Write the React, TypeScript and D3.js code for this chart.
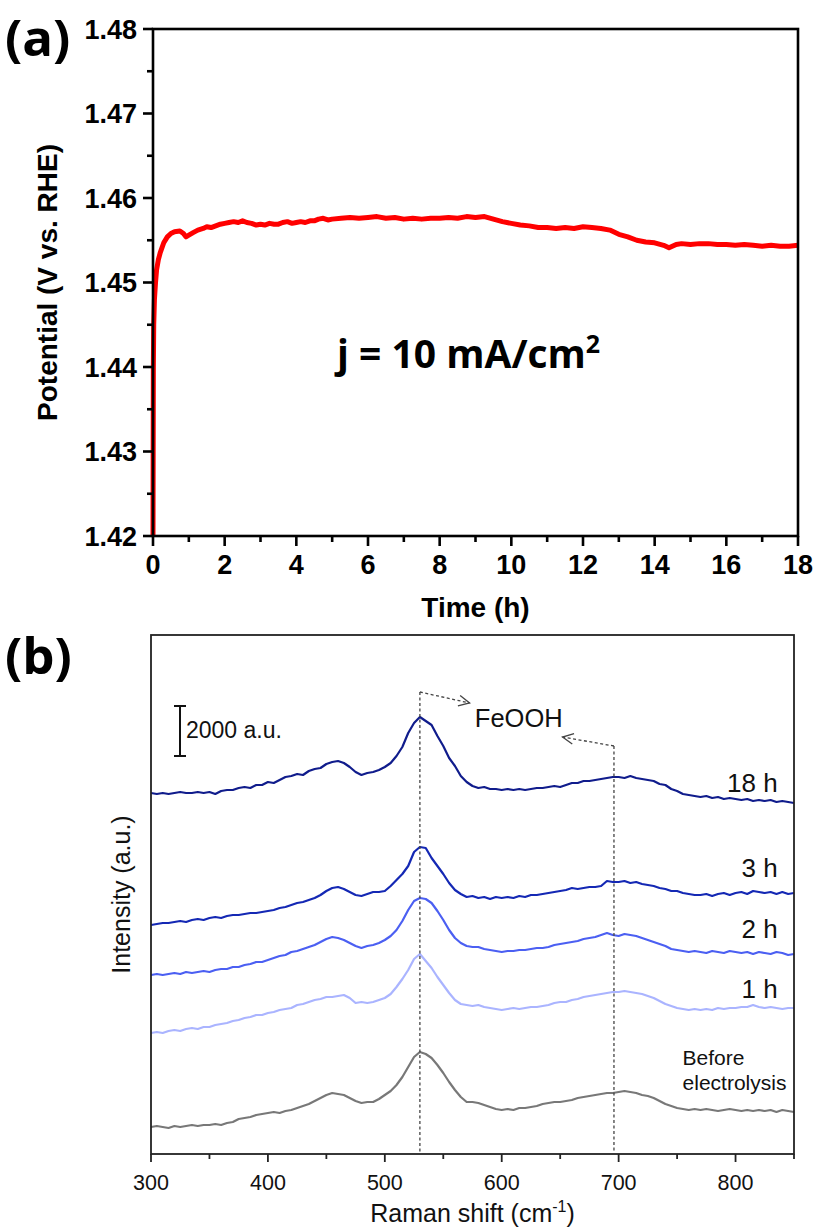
import React from 'react';
import * as d3 from 'd3';

// ---------- Panel (a): chronopotentiometry ----------
const potentialTrace: [number, number][] = [
  [0, 1.42], [0.01, 1.44], [0.02, 1.445], [0.04, 1.448], [0.07, 1.45], [0.1, 1.4515],
  [0.15, 1.4527], [0.2, 1.4535], [0.3, 1.4547], [0.4, 1.4554], [0.5, 1.4558], [0.6, 1.456],
  [0.75, 1.4561], [0.85, 1.4558], [0.92, 1.4554], [1.0, 1.4556], [1.12, 1.4559], [1.25, 1.4562],
  [1.4, 1.4564], [1.5, 1.4566], [1.62, 1.4565], [1.75, 1.4567], [1.88, 1.4569], [2.0, 1.457],
  [2.12, 1.4571], [2.25, 1.4572], [2.38, 1.4571], [2.5, 1.4573], [2.62, 1.4571], [2.75, 1.457],
  [2.88, 1.4568], [3.0, 1.4569], [3.12, 1.4568], [3.25, 1.457], [3.38, 1.4569], [3.5, 1.4569],
  [3.62, 1.4571], [3.75, 1.4572], [3.88, 1.457], [4.0, 1.4571], [4.12, 1.4572], [4.25, 1.4571],
  [4.38, 1.4573], [4.5, 1.4573], [4.62, 1.4575], [4.75, 1.4576], [4.88, 1.4574], [5.0, 1.4575],
  [5.25, 1.4576], [5.5, 1.4577], [5.75, 1.4576], [6.0, 1.4577], [6.25, 1.4578], [6.5, 1.4576],
  [6.75, 1.4577], [7.0, 1.4575], [7.25, 1.4576], [7.5, 1.4575], [7.75, 1.4576], [8.0, 1.4576],
  [8.25, 1.4577], [8.5, 1.4576], [8.75, 1.4578], [9.0, 1.4577], [9.25, 1.4578], [9.5, 1.4575],
  [9.75, 1.4572], [10.0, 1.457], [10.25, 1.4568], [10.5, 1.4567], [10.75, 1.4565], [11.0, 1.4565],
  [11.25, 1.4564], [11.5, 1.4565], [11.75, 1.4564], [12.0, 1.4566], [12.25, 1.4565], [12.5, 1.4564],
  [12.75, 1.4562], [13.0, 1.4557], [13.25, 1.4554], [13.5, 1.455], [13.75, 1.4548], [14.0, 1.4547],
  [14.25, 1.4544], [14.4, 1.4541], [14.6, 1.4545], [14.75, 1.4546], [15.0, 1.4545], [15.25, 1.4546],
  [15.5, 1.4546], [15.75, 1.4545], [16.0, 1.4545], [16.25, 1.4544], [16.5, 1.4545], [16.75, 1.4544],
  [17.0, 1.4543], [17.25, 1.4544], [17.5, 1.4543], [17.75, 1.4543], [18.0, 1.4544],
];
const timeDomain = [0, 18];
const potentialDomain = [1.42, 1.48];

// ---------- Panel (b): Raman spectra (offset, a.u.) ----------
const ramanShift = d3.range(300, 851, 5);
const spec18h = [
  14440, 14400, 14440, 14400, 14440, 14480, 14440, 14440, 14480, 14440,
  14480, 14400, 14520, 14560, 14560, 14640, 14680, 14640, 14760, 14760,
  14880, 14840, 14960, 15080, 15120, 15200, 15160, 15320, 15400, 15440,
  15600, 15680, 15720, 15640, 15480, 15280, 15160, 15240, 15280, 15360,
  15480, 15640, 15920, 16280, 16840, 17240, 17480, 17320, 17160, 16720,
  16320, 15840, 15520, 15120, 14880, 14720, 14640, 14680, 14600, 14600,
  14560, 14600, 14560, 14600, 14560, 14600, 14640, 14640, 14680, 14720,
  14680, 14760, 14840, 14840, 14920, 14920, 14960, 15000, 15040, 15080,
  15080, 15040, 15120, 15040, 15000, 14960, 14920, 14800, 14760, 14600,
  14520, 14400, 14360, 14320, 14280, 14320, 14240, 14280, 14200, 14240,
  14200, 14160, 14200, 14120, 14160, 14120, 14160, 14080, 14120, 14080,
  14040,
];
const spec3h = [
  9160, 9200, 9240, 9240, 9280, 9320, 9280, 9360, 9400, 9360,
  9440, 9480, 9440, 9520, 9560, 9560, 9600, 9640, 9640, 9680,
  9720, 9760, 9840, 9880, 9960, 10040, 10080, 10160, 10240, 10360,
  10520, 10640, 10680, 10600, 10480, 10360, 10320, 10400, 10480, 10480,
  10520, 10720, 10960, 11200, 11520, 12080, 12280, 12240, 11840, 11520,
  11200, 10840, 10560, 10400, 10280, 10320, 10240, 10280, 10200, 10280,
  10240, 10280, 10240, 10320, 10280, 10360, 10360, 10400, 10440, 10480,
  10520, 10560, 10640, 10600, 10640, 10680, 10680, 10720, 10920, 10880,
  10880, 10920, 10840, 10880, 10800, 10760, 10720, 10640, 10600, 10520,
  10520, 10440, 10400, 10360, 10360, 10400, 10320, 10400, 10440, 10360,
  10440, 10480, 10400, 10520, 10480, 10440, 10480, 10400, 10480, 10400,
  10440,
];
const spec2h = [
  7160, 7200, 7160, 7200, 7240, 7200, 7280, 7240, 7280, 7320,
  7280, 7360, 7400, 7400, 7480, 7480, 7560, 7600, 7680, 7680,
  7760, 7840, 7920, 7960, 8080, 8120, 8200, 8280, 8360, 8480,
  8600, 8680, 8640, 8560, 8440, 8320, 8240, 8320, 8360, 8440,
  8560, 8720, 8960, 9320, 9760, 10120, 10240, 10200, 10040, 9720,
  9360, 8960, 8640, 8440, 8320, 8280, 8280, 8200, 8160, 8120,
  8080, 8120, 8120, 8160, 8160, 8200, 8240, 8240, 8280, 8360,
  8400, 8440, 8480, 8520, 8600, 8640, 8680, 8760, 8840, 8760,
  8720, 8800, 8760, 8720, 8640, 8560, 8480, 8400, 8320, 8200,
  8160, 8120, 8080, 8120, 8080, 8040, 8120, 8080, 8040, 8120,
  8080, 8040, 8080, 8000, 8080, 8040, 8000, 8080, 8040, 7960,
  8000,
];
const spec1h = [
  4840, 4880, 4840, 4920, 4960, 4920, 5000, 5040, 5000, 5080,
  5080, 5160, 5200, 5240, 5320, 5360, 5440, 5480, 5560, 5560,
  5640, 5680, 5760, 5800, 5840, 5960, 6000, 6080, 6160, 6200,
  6280, 6280, 6320, 6360, 6240, 6040, 6080, 6040, 6080, 6160,
  6240, 6400, 6680, 7000, 7360, 7800, 8000, 7720, 7440, 7080,
  6760, 6440, 6160, 6000, 5960, 5920, 5960, 5880, 5840, 5800,
  5760, 5800, 5840, 5800, 5840, 5880, 5880, 5920, 5960, 6040,
  6080, 6080, 6160, 6200, 6280, 6320, 6360, 6400, 6440, 6480,
  6480, 6520, 6480, 6440, 6400, 6320, 6240, 6120, 6000, 5920,
  5840, 5800, 5760, 5800, 5760, 5800, 5760, 5840, 5800, 5840,
  5840, 5880, 5880, 5960, 5880, 5840, 5880, 5840, 5800, 5840,
  5840,
];
const specBefore = [
  1080, 1120, 1080, 1040, 1120, 1080, 1120, 1160, 1120, 1160,
  1160, 1200, 1160, 1240, 1280, 1400, 1440, 1480, 1560, 1600,
  1640, 1680, 1640, 1720, 1760, 1840, 1920, 2000, 2120, 2240,
  2360, 2440, 2400, 2360, 2240, 2120, 2040, 2080, 2080, 2200,
  2360, 2520, 2760, 3080, 3480, 3880, 4080, 4000, 3840, 3560,
  3240, 2880, 2560, 2280, 2080, 2080, 2040, 1960, 1880, 1800,
  1760, 1800, 1760, 1840, 1840, 1880, 1920, 2000, 2040, 2080,
  2080, 2120, 2160, 2240, 2280, 2320, 2360, 2400, 2440, 2440,
  2480, 2520, 2480, 2440, 2360, 2320, 2240, 2120, 2000, 1920,
  1840, 1800, 1760, 1800, 1760, 1800, 1760, 1720, 1760, 1800,
  1760, 1720, 1760, 1720, 1760, 1720, 1760, 1680, 1760, 1720,
  1680,
];
const spectraSeries = [
  { name: '18 h', values: spec18h, color: '#101c8c', labelY: 14480 },
  { name: '3 h', values: spec3h, color: '#1428b4', labelY: 11080 },
  { name: '2 h', values: spec2h, color: '#4b5ff2', labelY: 8640 },
  { name: '1 h', values: spec1h, color: '#aab4ff', labelY: 6240 },
  { name: 'Before electrolysis', values: specBefore, color: '#787878', labelY: 3560 },
];
const ramanDomain = [300, 850];
const intensityDomain = [0, 20800];
const feoohPeaks = [530, 696];
const scaleBarValue = 2000;

const ARIAL = '"Liberation Sans", Arial, sans-serif';
const OPEN = '"Open Sans", sans-serif';

export default function App() {
  const xA = d3.scaleLinear().domain(timeDomain).range([153, 798]);
  const yA = d3.scaleLinear().domain(potentialDomain).range([536, 29]);
  const xB = d3.scaleLinear().domain(ramanDomain).range([151, 794]);
  const yB = d3.scaleLinear().domain(intensityDomain).range([1154, 634]);

  const lineA = d3.line<[number, number]>().x((d) => xA(d[0])).y((d) => yA(d[1]));
  const xMajA = xA.ticks(9);
  const xMinA = xA.ticks(18).filter((t) => !xMajA.includes(t));
  const yMajA = yA.ticks(6);
  const yMinA = yA.ticks(12).filter((t) => !yMajA.some((m) => Math.abs(m - t) < 1e-9));
  const fmtA = d3.format('.2f');

  const xMajB = xB.ticks(6);
  const xMinB = xB.ticks(11).filter((t) => !xMajB.includes(t));

  const specLine = (vals: number[]) =>
    d3.line<number>().x((_, i) => xB(ramanShift[i])).y((d) => yB(d))(vals.slice(0, ramanShift.length)) || '';

  const aTop = yA.range()[1];
  const aBot = yA.range()[0];
  const aL = xA.range()[0];
  const aR = xA.range()[1];
  const bTop = 635;
  const bBot = yB.range()[0];
  const bL = xB.range()[0];
  const bR = xB.range()[1];

  const vTop1 = yB(18480);
  const arrowEnd1: [number, number] = [xB(572.5), yB(18040)];
  const vTop2 = yB(16320);
  const arrowEnd2: [number, number] = [xB(652), yB(16680)];

  const chevron = (from: [number, number], to: [number, number]) => {
    const ang = Math.atan2(to[1] - from[1], to[0] - from[0]);
    const len = 12;
    const spread = 0.45;
    const p1 = [to[0] - len * Math.cos(ang - spread), to[1] - len * Math.sin(ang - spread)];
    const p2 = [to[0] - len * Math.cos(ang + spread), to[1] - len * Math.sin(ang + spread)];
    return `M${p1[0]},${p1[1]}L${to[0]},${to[1]}L${p2[0]},${p2[1]}`;
  };

  const sbX = xB(324.8);
  const sbBottom = yB(15920);
  const sbTop = yB(15920 + scaleBarValue);

  return (
    <svg
      width={820}
      height={1230}
      viewBox="0 0 820 1230"
      style={{ position: 'absolute', left: 0, top: 0, background: '#fff' }}
    >
      <rect x={0} y={0} width={820} height={1230} fill="#fff" />

      {/* ================= Panel (a) ================= */}
      <text x={5} y={56} fontFamily={OPEN} fontWeight={700} fontSize={51} fill="#000">(a)</text>

      <path d={lineA(potentialTrace) || ''} fill="none" stroke="#ff0000" strokeWidth={5} strokeLinejoin="round" />

      <rect x={aL} y={aTop} width={aR - aL} height={aBot - aTop} fill="none" stroke="#000" strokeWidth={2.6} />

      {yMajA.map((t) => (
        <g key={`ya${t}`}>
          <line x1={aL - 10} x2={aL} y1={yA(t)} y2={yA(t)} stroke="#000" strokeWidth={2.6} />
          <text x={aL - 16} y={yA(t) + 9.5} textAnchor="end" fontFamily={ARIAL} fontWeight={700} fontSize={27}>
            {fmtA(t)}
          </text>
        </g>
      ))}
      {yMinA.map((t) => (
        <line key={`yam${t}`} x1={aL - 6} x2={aL} y1={yA(t)} y2={yA(t)} stroke="#000" strokeWidth={2.6} />
      ))}
      {xMajA.map((t) => (
        <g key={`xa${t}`}>
          <line x1={xA(t)} x2={xA(t)} y1={aBot} y2={aBot + 10} stroke="#000" strokeWidth={2.6} />
          <text x={xA(t)} y={574} textAnchor="middle" fontFamily={ARIAL} fontWeight={700} fontSize={27}>
            {t}
          </text>
        </g>
      ))}
      {xMinA.map((t) => (
        <line key={`xam${t}`} x1={xA(t)} x2={xA(t)} y1={aBot} y2={aBot + 6} stroke="#000" strokeWidth={2.6} />
      ))}

      <text x={(aL + aR) / 2} y={617} textAnchor="middle" fontFamily={ARIAL} fontWeight={700} fontSize={28}>
        Time (h)
      </text>
      <text
        transform={`translate(57, ${(aTop + aBot) / 2}) rotate(-90)`}
        textAnchor="middle"
        fontFamily={ARIAL}
        fontWeight={700}
        fontSize={28}
      >
        Potential (V vs. RHE)
      </text>
      <text x={337} y={368} fontFamily={OPEN} fontWeight={700} fontSize={39}>
        j = 10 mA/cm<tspan fontSize={25} dy={-15}>2</tspan>
      </text>

      {/* ================= Panel (b) ================= */}
      <text x={5} y={674} fontFamily={OPEN} fontWeight={700} fontSize={51} fill="#000">(b)</text>

      {spectraSeries.map((s) => (
        <path key={s.name} d={specLine(s.values)} fill="none" stroke={s.color} strokeWidth={2.2} strokeLinejoin="round" />
      ))}

      <g stroke="#444" strokeWidth={1.3} fill="none" strokeDasharray="3,2.5">
        <line x1={xB(feoohPeaks[0])} x2={xB(feoohPeaks[0])} y1={vTop1} y2={bBot - 2} />
        <line x1={xB(feoohPeaks[0])} x2={arrowEnd1[0]} y1={vTop1} y2={arrowEnd1[1]} />
        <line x1={xB(feoohPeaks[1])} x2={xB(feoohPeaks[1])} y1={vTop2} y2={bBot - 2} />
        <line x1={xB(feoohPeaks[1])} x2={arrowEnd2[0]} y1={vTop2} y2={arrowEnd2[1]} />
      </g>
      <path d={chevron([xB(feoohPeaks[0]), vTop1], arrowEnd1)} fill="none" stroke="#444" strokeWidth={1.3} />
      <path d={chevron([xB(feoohPeaks[1]), vTop2], arrowEnd2)} fill="none" stroke="#444" strokeWidth={1.3} />
      <text x={xB(577)} y={yB(17080)} fontFamily={ARIAL} fontSize={25.5} fill="#111">FeOOH</text>

      <g stroke="#111" strokeWidth={2}>
        <line x1={sbX} x2={sbX} y1={sbTop} y2={sbBottom} />
        <line x1={sbX - 6} x2={sbX + 6} y1={sbTop} y2={sbTop} />
        <line x1={sbX - 6} x2={sbX + 6} y1={sbBottom} y2={sbBottom} />
      </g>
      <text x={xB(329.9)} y={yB(16640)} fontFamily={ARIAL} fontSize={23} fill="#111">
        {scaleBarValue} a.u.
      </text>

      {spectraSeries.slice(0, 4).map((s) => (
        <text key={`l${s.name}`} x={xB(836)} y={yB(s.labelY)} textAnchor="end" fontFamily={ARIAL} fontSize={26} fill="#111">
          {s.name}
        </text>
      ))}
      <text x={xB(754.7)} y={yB(3560)} fontFamily={ARIAL} fontSize={21} fill="#111">Before</text>
      <text x={xB(754.7)} y={yB(2560)} fontFamily={ARIAL} fontSize={21} fill="#111">electrolysis</text>

      <rect x={bL} y={bTop} width={bR - bL} height={bBot - bTop} fill="none" stroke="#222" strokeWidth={1.8} />
      {xMajB.map((t) => (
        <g key={`xb${t}`}>
          <line x1={xB(t)} x2={xB(t)} y1={bBot} y2={bBot + 8} stroke="#222" strokeWidth={1.8} />
          <text x={xB(t)} y={1190} textAnchor="middle" fontFamily={ARIAL} fontSize={21.5} fill="#111">
            {t}
          </text>
        </g>
      ))}
      {xMinB.map((t) => (
        <line key={`xbm${t}`} x1={xB(t)} x2={xB(t)} y1={bBot} y2={bBot + 5} stroke="#222" strokeWidth={1.8} />
      ))}
      <text x={(bL + bR) / 2} y={1222} textAnchor="middle" fontFamily={ARIAL} fontSize={25} fill="#111">
        Raman shift (cm<tspan fontSize={16} dy={-10}>-1</tspan><tspan dy={10}>)</tspan>
      </text>
      <text
        transform={`translate(130, ${(bTop + bBot) / 2}) rotate(-90)`}
        textAnchor="middle"
        fontFamily={ARIAL}
        fontSize={25}
        fill="#111"
      >
        Intensity (a.u.)
      </text>
    </svg>
  );
}
